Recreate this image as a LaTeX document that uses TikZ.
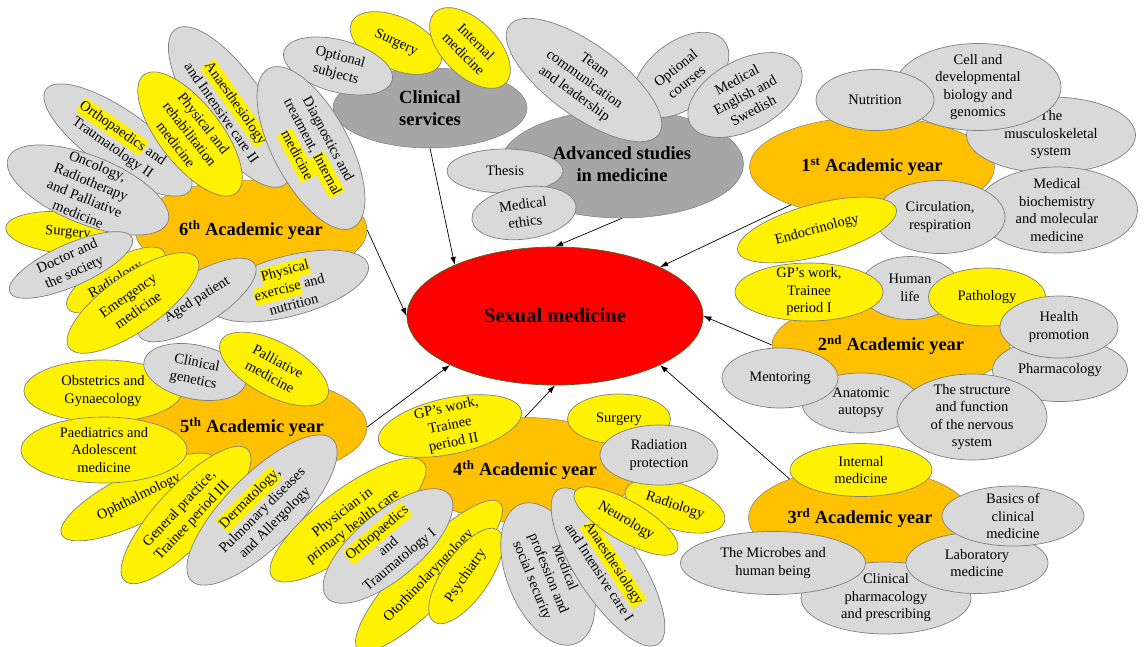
\documentclass[tikz,border=0pt]{standalone}
\usepackage{fontspec}
\setmainfont{Liberation Serif}
\usetikzlibrary{arrows.meta,shapes.geometric}
\definecolor{yearorange}{HTML}{FFC000}
\definecolor{petalgray}{HTML}{D9D9D9}
\definecolor{hubgray}{HTML}{A6A6A6}
\definecolor{petalline}{HTML}{7F7F7F}
\definecolor{coreline}{HTML}{4F6228}
\newcommand\petalfont{\fontsize{14.5}{17.5}\selectfont}
\newcommand\headfont{\fontsize{18.5}{21.5}\selectfont\bfseries}
\newcommand\hlt[1]{{\setlength{\fboxsep}{0pt}\colorbox{yellow}{\strut#1}}}

\begin{document}
\begin{tikzpicture}[
    x=1pt, y=-1pt,
    every node/.style={font=\petalfont},
    petal/.style={ellipse, draw=petalline, line width=0.7pt, align=center, inner xsep=-4pt, inner ysep=-14pt},
    gpetal/.style={petal, fill=petalgray},
    ypetal/.style={petal, fill=yellow},
    yearnode/.style={ellipse, draw=petalline, line width=0.5pt, fill=yearorange, font=\headfont, align=center, inner sep=0pt},
    hub/.style={yearnode, fill=hubgray},
    corenode/.style={ellipse, draw=coreline, line width=0.7pt, fill=red, font=\fontsize{20.5}{24}\selectfont\bfseries, inner sep=0pt},
    link/.style={-{Latex[length=8pt,width=5.5pt]}, line width=0.7pt},
    sz/.style 2 args={minimum width=#1pt, minimum height=#2pt}
]
\useasboundingbox (0,0) rectangle (1146,646);

\node[hub, sz={194}{80}] (cs) at (430,108) {Clinical\\services};
\node[ypetal, sz={98}{52}, rotate=-25] (cssur) at (396,43) {Surgery};
\node[ypetal, sz={100}{55}, rotate=-45] (csint) at (470,48) {Internal\\medicine};
\node[gpetal, sz={112}{52}, rotate=-15] (csopt) at (338,66) {Optional\\subjects};

\node[hub, sz={243}{108}] (adv) at (622,164) {Advanced studies\\in medicine};
\node[gpetal, sz={110}{66}, rotate=38] (advopt) at (681,75) {Optional\\courses};
\node[gpetal, sz={124}{70}, rotate=28] (adveng) at (745,95) {Medical\\English and\\Swedish};
\node[gpetal, sz={185}{72}, rotate=-36] (advteam) at (584,80) {Team\\communication\\and leadership};
\node[gpetal, sz={116}{44}] (advthe) at (505,171) {Thesis};
\node[gpetal, sz={105}{52}, rotate=8] (adveth) at (524,213) {Medical\\ethics};

\node[yearnode, sz={245}{100}] (y1) at (872,167) {1\textsuperscript{st} Academic year};
\node[gpetal, sz={169}{76}] (y1mus) at (1051,135) {The\\musculoskeletal\\system};
\node[gpetal, sz={166}{87}] (y1cel) at (978,87) {Cell and\\developmental\\biology and\\genomics};
\node[gpetal, sz={118}{61}] (y1nut) at (875,100) {Nutrition};
\node[gpetal, sz={161}{86}] (y1bio) at (1057,210) {Medical\\biochemistry\\and molecular\\medicine};
\node[gpetal, sz={130}{73}] (y1cir) at (940,217) {Circulation,\\respiration};
\node[ypetal, sz={164}{52}, rotate=15] (y1end) at (817,230) {Endocrinology};

\node[yearnode, sz={238}{92}] (y2) at (891,345) {2\textsuperscript{nd} Academic year};
\node[gpetal, sz={135}{63}] (y2pha) at (1060,370) {Pharmacology};
\node[gpetal, sz={100}{63}] (y2hum) at (910,288) {Human\\life};
\node[ypetal, sz={148}{58}] (y2gp) at (809,292) {GP’s work,\\Trainee\\period I};
\node[ypetal, sz={117}{58}] (y2pat) at (987,297) {Pathology};
\node[gpetal, sz={118}{62}] (y2hea) at (1059,327) {Health\\promotion};
\node[gpetal, sz={118}{60}] (y2ana) at (861,403) {Anatomic\\autopsy};
\node[gpetal, sz={150}{86}] (y2ner) at (972,417) {The structure\\and function\\of the nervous\\system};
\node[gpetal, sz={116}{60}] (y2men) at (780,378) {Mentoring};

\node[yearnode, sz={223}{100}] (y3) at (860,518) {3\textsuperscript{rd} Academic year};
\node[ypetal, sz={142}{53}] (y3int) at (861,470) {Internal\\medicine};
\node[gpetal, sz={170}{72}] (y3pha) at (886,598) {Clinical\\pharmacology\\and prescribing};
\node[gpetal, sz={185}{63}] (y3mic) at (773,563) {The Microbes and\\human being};
\node[gpetal, sz={142}{61}] (y3lab) at (977,563) {Laboratory\\medicine};
\node[gpetal, sz={142}{60}] (y3bas) at (1013,516) {Basics of\\clinical\\medicine};

\node[yearnode, sz={230}{100}] (y5) at (252,427) {5\textsuperscript{th} Academic year};
\node[ypetal, sz={172}{50}, rotate=26] (y5oph) at (139,497) {Ophthalmology};
\node[ypetal, sz={180}{58}, rotate=47] (y5gen) at (186,515) {General practice,\\Trainee period III};
\node[gpetal, sz={200}{72}, rotate=45] (y5der) at (262,510) {\hlt{Dermatology},\\Pulmonary diseases\\and Allergology};
\node[ypetal, sz={158}{62}] (y5obs) at (103,391) {Obstetrics and\\Gynaecology};
\node[ypetal, sz={166}{66}] (y5pae) at (104,450) {Paediatrics and\\Adolescent\\medicine};
\node[gpetal, sz={104}{54}, rotate=-12] (y5cge) at (195,372) {Clinical\\genetics};
\node[ypetal, sz={120}{54}, rotate=-28] (y5pal) at (274,369) {Palliative\\medicine};

\node[yearnode, sz={225}{105}] (y4) at (525,470) {4\textsuperscript{th} Academic year};
\node[ypetal, sz={190}{60}, rotate=37] (y4phy) at (348,520) {Physician in\\primary health care};
\node[ypetal, sz={204}{54}, rotate=46] (y4oto) at (429,576) {Otorhinolaryngology};
\node[gpetal, sz={160}{66}, rotate=40] (y4ort) at (388,546) {\hlt{Orthopaedics}\\and\\Traumatology I};
\node[ypetal, sz={112}{46}, rotate=55] (y4psy) at (466,576) {Psychiatry};
\node[gpetal, sz={150}{82}, rotate=-68] (y4med) at (548,574) {Medical\\profession and\\social security};
\node[gpetal, sz={184}{64}, rotate=-57] (y4ana) at (608,567) {\hlt{Anaesthesiology}\\and Intensive care I};
\node[ypetal, sz={104}{46}, rotate=-18] (y4rad) at (675,506) {Radiology};
\node[ypetal, sz={118}{40}, rotate=-30] (y4neu) at (626,521) {Neurology};
\node[ypetal, sz={103}{50}] (y4sur) at (619,419) {Surgery};
\node[gpetal, sz={118}{60}] (y4rap) at (659,455) {Radiation\\protection};
\node[ypetal, sz={146}{56}, rotate=12] (y4gp) at (450,426) {GP’s work,\\Trainee\\period II};

\node[yearnode, sz={232}{100}] (y6) at (251,230) {6\textsuperscript{th} Academic year};
\node[gpetal, sz={176}{60}, rotate=-35] (y6ort) at (118,140) {\hlt{Orthopaedics} and\\Traumatology II};
\node[gpetal, sz={190}{70}, rotate=-55] (y6ana) at (230,107) {\hlt{Anaesthesiology}\\and Intensive care II};
\node[gpetal, sz={180}{76}, rotate=-62] (y6dia) at (311,148) {Diagnostics and\\treatment, \hlt{Internal}\\\hlt{medicine}};
\node[ypetal, sz={150}{62}, rotate=-52] (y6phy) at (190,134) {Physical and\\rehabilitation\\medicine};
\node[ypetal, sz={125}{42}, rotate=-5] (y6sur) at (68,233) {Surgery};
\node[gpetal, sz={172}{68}, rotate=-22] (y6onc) at (88,190) {Oncology,\\Radiotherapy\\and Palliative\\medicine};
\node[ypetal, sz={112}{40}, rotate=30] (y6rad) at (116,280) {Radiology};
\node[gpetal, sz={134}{42}, rotate=24] (y6doc) at (71,265) {Doctor and\\the society};
\node[gpetal, sz={164}{60}, rotate=15] (y6exe) at (289,286) {\hlt{Physical}\\\hlt{exercise} and\\nutrition};
\node[gpetal, sz={136}{50}, rotate=32] (y6age) at (197,300) {Aged patient};
\node[ypetal, sz={156}{56}, rotate=35] (y6eme) at (133,303) {Emergency\\medicine};

\node[corenode, sz={296}{138}] (sm) at (555,316) {Sexual medicine};

\draw[link] (y6.east) -- (sm.west);
\draw[link] (cs.south) -- (sm.153);
\draw[link] (adv.south) -- (sm.north);
\draw[link] (y1.205) -- (sm.25);
\draw[link] (y2.west) -- (sm.east);
\draw[link] (y3.151) -- (sm.335);
\draw[link] (y4.north) -- (sm.south);
\draw[link] (y5.east) -- (sm.205);
\end{tikzpicture}
\end{document}
